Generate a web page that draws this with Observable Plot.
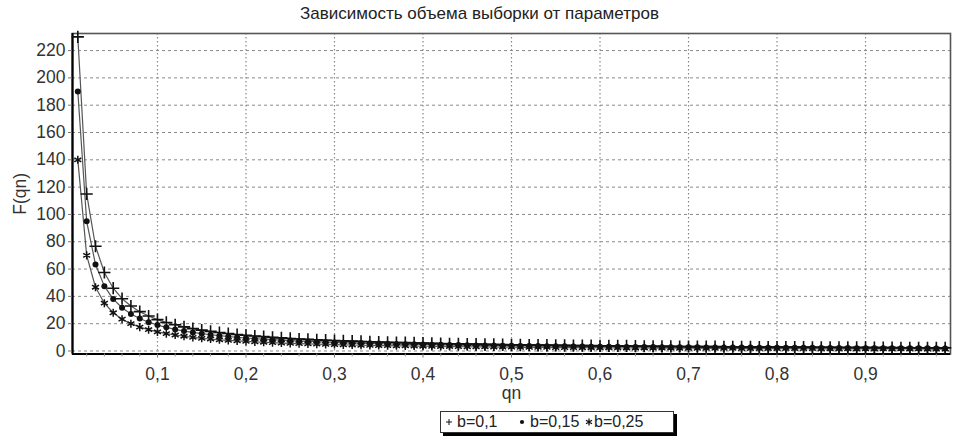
<!DOCTYPE html>
<html>
<head>
<meta charset="utf-8">
<script src="https://cdn.jsdelivr.net/npm/d3@7"></script>
<script src="https://cdn.jsdelivr.net/npm/@observablehq/plot@0.6"></script>
<style>
  body { margin: 0; background: #fff; font-family: "Liberation Sans", Arial, sans-serif; }
  #wrap { position: relative; width: 959px; height: 442px; overflow: hidden; }
  #title { position: absolute; left: 0; top: 0; width: 959px; height: 28px; line-height: 28px; text-align: center; font-size: 17px; color: #222; }
  #chart { position: absolute; left: 0; top: 28px; }
  #legend { position: absolute; left: 440px; top: 411px; width: 232px; height: 20px; border: 1px solid #333; box-shadow: 3px 3px 0 #000; background: #fff; font-size: 16px; color: #222; }
  #legend span { position: absolute; top: 0; line-height: 20px; white-space: nowrap; }
  #legend svg { position: absolute; top: 5px; }
</style>
</head>
<body>
<div id="wrap">
  <div id="title"></div>
  <div id="chart"></div>
  <div id="legend"></div>
</div>
<script>
const titleText = "Зависимость объема выборки от параметров";
const xLabel = "qn";
const yLabel = "F(qn)";
const seriesNames = ["b=0,1", "b=0,15", "b=0,25"];

const qn = [
  0.01,0.02,0.03,0.04,0.05,0.06,0.07,0.08,0.09,0.10,
  0.11,0.12,0.13,0.14,0.15,0.16,0.17,0.18,0.19,0.20,
  0.21,0.22,0.23,0.24,0.25,0.26,0.27,0.28,0.29,0.30,
  0.31,0.32,0.33,0.34,0.35,0.36,0.37,0.38,0.39,0.40,
  0.41,0.42,0.43,0.44,0.45,0.46,0.47,0.48,0.49,0.50,
  0.51,0.52,0.53,0.54,0.55,0.56,0.57,0.58,0.59,0.60,
  0.61,0.62,0.63,0.64,0.65,0.66,0.67,0.68,0.69,0.70,
  0.71,0.72,0.73,0.74,0.75,0.76,0.77,0.78,0.79,0.80,
  0.81,0.82,0.83,0.84,0.85,0.86,0.87,0.88,0.89,0.90,
  0.91,0.92,0.93,0.94,0.95,0.96,0.97,0.98,0.99
];

const fB010 = [
  230,115,76.7,57.5,46,38.3,32.9,28.8,25.6,23,
  20.9,19.2,17.7,16.4,15.3,14.4,13.5,12.8,12.1,11.5,
  11,10.5,10,9.6,9.2,8.8,8.5,8.2,7.9,7.7,
  7.4,7.2,7,6.8,6.6,6.4,6.2,6.1,5.9,5.8,
  5.6,5.5,5.3,5.2,5.1,5,4.9,4.8,4.7,4.6,
  4.5,4.4,4.3,4.3,4.2,4.1,4,4,3.9,3.8,
  3.8,3.7,3.7,3.6,3.5,3.5,3.4,3.4,3.3,3.3,
  3.2,3.2,3.2,3.1,3.1,3,3,2.9,2.9,2.9,
  2.8,2.8,2.8,2.7,2.7,2.7,2.6,2.6,2.6,2.6,
  2.5,2.5,2.5,2.4,2.4,2.4,2.4,2.3,2.3
];

const fB015 = [
  190,95,63.3,47.5,38,31.7,27.1,23.8,21.1,19,
  17.3,15.8,14.6,13.6,12.7,11.9,11.2,10.6,10,9.5,
  9,8.6,8.3,7.9,7.6,7.3,7,6.8,6.6,6.3,
  6.1,5.9,5.8,5.6,5.4,5.3,5.1,5,4.9,4.8,
  4.6,4.5,4.4,4.3,4.2,4.1,4,4,3.9,3.8,
  3.7,3.7,3.6,3.5,3.5,3.4,3.3,3.3,3.2,3.2,
  3.1,3.1,3,3,2.9,2.9,2.8,2.8,2.8,2.7,
  2.7,2.6,2.6,2.6,2.5,2.5,2.5,2.4,2.4,2.4,
  2.3,2.3,2.3,2.3,2.2,2.2,2.2,2.2,2.1,2.1,
  2.1,2.1,2,2,2,2,2,1.9,1.9
];

const fB025 = [
  140,70,46.7,35,28,23.3,20,17.5,15.6,14,
  12.7,11.7,10.8,10,9.3,8.8,8.2,7.8,7.4,7,
  6.7,6.4,6.1,5.8,5.6,5.4,5.2,5,4.8,4.7,
  4.5,4.4,4.2,4.1,4,3.9,3.8,3.7,3.6,3.5,
  3.4,3.3,3.3,3.2,3.1,3,3,2.9,2.9,2.8,
  2.7,2.7,2.6,2.6,2.5,2.5,2.5,2.4,2.4,2.3,
  2.3,2.3,2.2,2.2,2.2,2.1,2.1,2.1,2,2,
  2,1.9,1.9,1.9,1.9,1.8,1.8,1.8,1.8,1.8,
  1.7,1.7,1.7,1.7,1.6,1.6,1.6,1.6,1.6,1.6,
  1.5,1.5,1.5,1.5,1.5,1.5,1.4,1.4,1.4
];

const xTicks = [0.1,0.2,0.3,0.4,0.5,0.6,0.7,0.8,0.9];
const xTickLabels = ["0,1","0,2","0,3","0,4","0,5","0,6","0,7","0,8","0,9"];
const xMinorTicks = [0.02,0.04,0.06,0.08,0.12,0.14,0.16,0.18,0.22,0.24,0.26,0.28,0.32,0.34,0.36,0.38,0.42,0.44,0.46,0.48,0.52,0.54,0.56,0.58,0.62,0.64,0.66,0.68,0.72,0.74,0.76,0.78,0.82,0.84,0.86,0.88,0.92,0.94,0.96,0.98];
const yTicks = [0,20,40,60,80,100,120,140,160,180,200,220];
const yTickLabels = ["0","20","40","60","80","100","120","140","160","180","200","220"];
const xDomain = [0.004, 0.996];
const yDomain = [-2.2, 232.5];

const allSeries = [fB010, fB015, fB025];
const data = [];
allSeries.forEach((vals, si) => {
  vals.forEach((v, i) => data.push({qn: qn[i], F: v, b: seriesNames[si]}));
});
const s1 = data.filter(d => d.b === seriesNames[0]);
const s2 = data.filter(d => d.b === seriesNames[1]);
const s3 = data.filter(d => d.b === seriesNames[2]);

document.getElementById("title").textContent = titleText;

const chart = Plot.plot({
  width: 959,
  height: 380,
  marginLeft: 72,
  marginRight: 9,
  marginTop: 5,
  marginBottom: 54.5,
  style: {fontFamily: "'Liberation Sans', Arial, sans-serif", fontSize: "17.5px", color: "#222", background: "#fff"},
  x: {type: "linear", domain: xDomain, axis: null},
  y: {type: "linear", domain: yDomain, axis: null},
  marks: [
    Plot.gridY(yTicks, {stroke: "#8a8a8a", strokeOpacity: 1, strokeDasharray: "3,3", strokeWidth: 1}),
    Plot.gridX(xTicks, {stroke: "#8a8a8a", strokeOpacity: 1, strokeDasharray: "1.5,2.5", strokeWidth: 1.2}),
    Plot.frame({stroke: "#555", strokeWidth: 1.6}),
    Plot.ruleX([xDomain[0]], {stroke: "#000", strokeWidth: 2.2}),
    Plot.ruleY([yDomain[0]], {stroke: "#000", strokeWidth: 2.2}),
    Plot.axisX(xMinorTicks, {tickFormat: () => "", tickSize: 3, stroke: "#999", label: null}),
    Plot.axisX(xTicks, {tickFormat: (d, i) => xTickLabels[i], tickSize: 4, tickPadding: 10, stroke: "#777", fill: "#333", label: null}),
    Plot.axisY(yTicks, {tickFormat: (d, i) => yTickLabels[i], tickSize: 4, tickPadding: 3, stroke: "#777", fill: "#333", label: null}),
    Plot.line(s1, {x: "qn", y: "F", stroke: "#555", strokeWidth: 1.2}),
    Plot.line(s2, {x: "qn", y: "F", stroke: "#555", strokeWidth: 1.2}),
    Plot.line(s3, {x: "qn", y: "F", stroke: "#555", strokeWidth: 1.2}),
    Plot.dot(s1, {x: "qn", y: "F", symbol: "plus", r: 4, stroke: "#111", strokeWidth: 1.6}),
    Plot.dot(s2, {x: "qn", y: "F", symbol: "circle", r: 3, fill: "#111", stroke: "none"}),
    Plot.dot(s3, {x: "qn", y: "F", symbol: "asterisk", r: 3.8, stroke: "#111", strokeWidth: 1.5}),
    Plot.text([yLabel], {frameAnchor: "left", dx: -52, rotate: -90, textAnchor: "middle", lineAnchor: "middle", fill: "#333"}),
    Plot.text([xLabel], {frameAnchor: "bottom", dy: 39, textAnchor: "middle", lineAnchor: "middle", fill: "#333"})
  ]
});
document.getElementById("chart").appendChild(chart);

// legend
const legend = document.getElementById("legend");
const legendSymbols = ["plus", "circle", "asterisk"];
const symX = [3, 76, 143];
const txtX = [16, 89, 153];
seriesNames.forEach((name, i) => {
  const ns = "http://www.w3.org/2000/svg";
  const svg = document.createElementNS(ns, "svg");
  svg.setAttribute("width", 10); svg.setAttribute("height", 10);
  svg.style.left = symX[i] + "px";
  const p = document.createElementNS(ns, "path");
  p.setAttribute("transform", "translate(5,5)");
  if (legendSymbols[i] === "circle") { p.setAttribute("fill", "#111"); p.setAttribute("d", d3.symbol(d3.symbolCircle, 14)()); }
  else if (legendSymbols[i] === "plus") { p.setAttribute("fill", "none"); p.setAttribute("stroke", "#111"); p.setAttribute("stroke-width", 1); p.setAttribute("d", "M-3,0H3M0,-3V3"); }
  else { p.setAttribute("fill", "none"); p.setAttribute("stroke", "#111"); p.setAttribute("stroke-width", 1.3); p.setAttribute("d", "M0,-3.5V3.5M-3,-1.8L3,1.8M-3,1.8L3,-1.8"); }
  svg.appendChild(p);
  legend.appendChild(svg);
  const sp = document.createElement("span");
  sp.textContent = name;
  sp.style.left = txtX[i] + "px";
  legend.appendChild(sp);
});
</script>
</body>
</html>
